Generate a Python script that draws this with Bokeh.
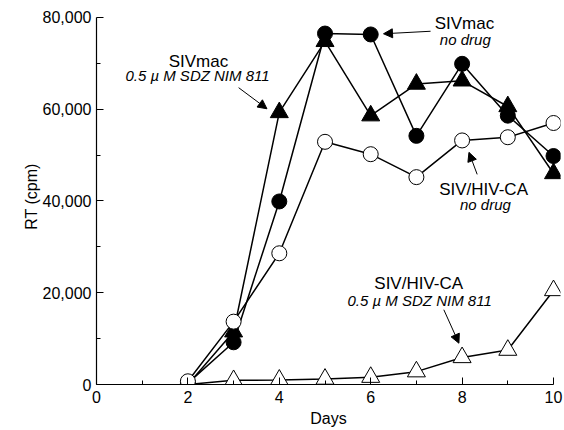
from bokeh.plotting import figure
from bokeh.models import Range1d, NumeralTickFormatter, FixedTicker, Label, Arrow, NormalHead
from bokeh.embed import file_html
from bokeh.resources import INLINE

# ---- data ----
days = [2, 3, 4, 5, 6, 7, 8, 9, 10]
sivmac_nodrug = [300, 9200, 39900, 76500, 76300, 54200, 69900, 58600, 49800]
sivmac_drug = [0, 11500, 59300, 74800, 58600, 65500, 66200, 60600, 46000]
chimera_nodrug = [700, 13700, 28600, 52900, 50200, 45200, 53200, 53900, 57000]
chimera_drug = [0, 900, 1000, 1200, 1600, 2800, 5900, 7500, 20500]

x_ticks = [0, 2, 4, 6, 8, 10]
x_minor = [1, 3, 5, 7, 9]
y_ticks = [0, 20000, 40000, 60000, 80000]
y_minor = [10000, 30000, 50000, 70000]

FONT = "Liberation Sans"

p = figure(width=564, height=430, output_backend="svg", toolbar_location=None,
           x_range=Range1d(0, 10.153), y_range=Range1d(0, 81960),
           min_border_left=96, min_border_right=4, min_border_top=8, min_border_bottom=46)
p.grid.visible = False
p.outline_line_color = None
p.background_fill_color = "white"

for ax in (p.xaxis[0], p.yaxis[0]):
    ax.axis_line_color = "black"
    ax.axis_line_width = 1.2
    ax.major_tick_in = 7
    ax.major_tick_out = 0
    ax.minor_tick_in = 4
    ax.minor_tick_out = 0
    ax.major_tick_line_color = "black"
    ax.minor_tick_line_color = "black"
    ax.major_label_text_font = FONT
    ax.major_label_text_font_size = "16px"
    ax.major_label_text_color = "black"
    ax.axis_label_text_font = FONT
    ax.axis_label_text_font_size = "16px"
    ax.axis_label_text_font_style = "normal"
    ax.axis_label_text_color = "black"

p.xaxis[0].ticker = FixedTicker(ticks=x_ticks, minor_ticks=x_minor)
p.xaxis[0].bounds = (0, 10)
p.xaxis[0].major_label_standoff = 6
p.xaxis[0].axis_label = "Days"
p.xaxis[0].axis_label_standoff = 4
p.yaxis[0].ticker = FixedTicker(ticks=y_ticks, minor_ticks=y_minor)
p.yaxis[0].bounds = (0, 80000)
p.yaxis[0].formatter = NumeralTickFormatter(format="0,0")
p.yaxis[0].major_label_standoff = 5
p.yaxis[0].axis_label = "RT (cpm)"
p.yaxis[0].axis_label_standoff = 0

# lines
for ys in (sivmac_nodrug, sivmac_drug, chimera_nodrug, chimera_drug):
    p.line(days, ys, line_color="black", line_width=1.5)

# markers
p.scatter(days, sivmac_nodrug, marker="circle", size=15, fill_color="black", line_color="black")
p.scatter(days, sivmac_drug, marker="triangle", size=18, fill_color="black", line_color="black")
p.scatter(days, chimera_drug, marker="triangle", size=18, fill_color="white", line_color="black")
p.scatter(days, chimera_nodrug, marker="circle", size=15, fill_color="white", line_color="black")

# annotations
annots = [
    ("SIVmac", 8.05, 78600, "normal", "17px"),
    ("no drug", 8.07, 75200, "italic", "15px"),
    ("SIVmac", 2.23, 70400, "normal", "17px"),
    ("0.5 \u00b5 M SDZ NIM 811", 2.21, 67250, "italic", "15px"),
    ("SIV/HIV-CA", 8.47, 42400, "normal", "17px"),
    ("no drug", 8.51, 39240, "italic", "15px"),
    ("SIV/HIV-CA", 7.05, 22020, "normal", "17px"),
    ("0.5 \u00b5 M SDZ NIM 811", 7.07, 18310, "italic", "15px"),
]
for t, x, y, st, fs in annots:
    p.add_layout(Label(x=x, y=y, text=t, text_font=FONT, text_font_size=fs,
                       text_font_style=st, text_align="center", text_baseline="middle",
                       text_color="black"))

arrows = [
    (7.31, 77000, 6.28, 76450),
    (3.11, 64700, 3.73, 60100),
    (8.33, 45800, 8.15, 50600),
    (7.60, 16300, 7.93, 9000),
]
for xs, ys, xe, ye in arrows:
    p.add_layout(Arrow(end=NormalHead(size=9, fill_color="black", line_color="black"),
                       x_start=xs, y_start=ys, x_end=xe, y_end=ye,
                       line_color="black", line_width=1))

open("out.html", "w").write(file_html(p, INLINE))
